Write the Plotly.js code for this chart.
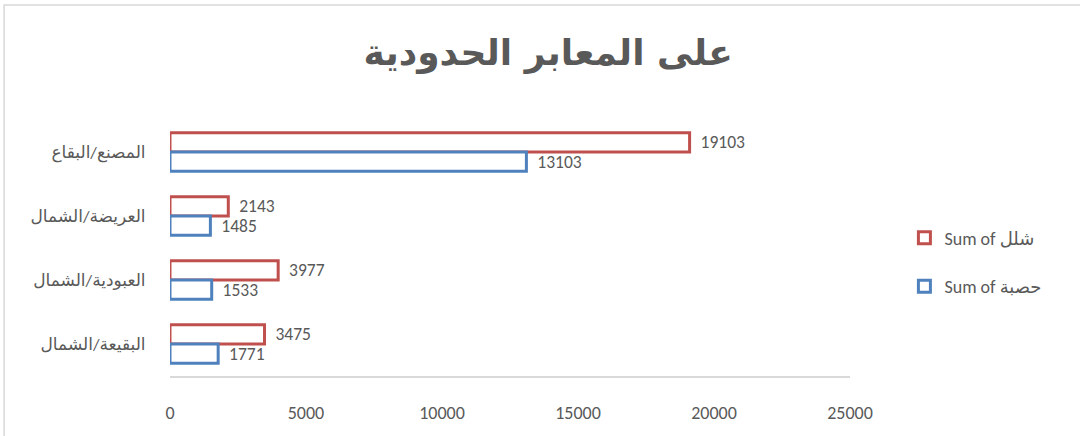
<!DOCTYPE html>
<html><head><meta charset="utf-8">
<script src="https://cdn.plot.ly/plotly-3.0.1.min.js"></script>
<style>html,body{margin:0;padding:0;background:#fff}#chart{width:1080px;height:436px}</style>
</head><body><div id="chart"></div>
<script>
const categories = ["المصنع/البقاع", "العريضة/الشمال", "العبودية/الشمال", "البقيعة/الشمال"];
const polioValues = [19103, 2143, 3977, 3475];
const measlesValues = [13103, 1485, 1533, 1771];
const seriesNames = ["Sum of شلل", "Sum of حصبة"];
const xTicks = [0, 5000, 10000, 15000, 20000, 25000];

const fontFam = "Calibri, Carlito, 'Liberation Sans', 'DejaVu Sans', sans-serif";
const grey = "#595959";

function trace(vals, name, color, grp) {
  return {
    type: "bar", orientation: "h", y: categories, x: vals, name: name, legendgroup: grp,
    marker: {color: "#ffffff", line: {color: color, width: 3}},
    text: vals.map(v => String(v)), texttemplate: "  %{text}",
    textposition: "outside", cliponaxis: false, constraintext: "none",
    textfont: {family: fontFam, size: 17.5, color: grey},
    hoverinfo: "none"
  };
}

const data = [trace(polioValues, seriesNames[0], "#C0504D", "a"), trace(measlesValues, seriesNames[1], "#4F81BD", "b")];

const layout = {
  width: 1080, height: 436,
  margin: {l: 170, r: 230, t: 120, b: 60},
  paper_bgcolor: "#fff", plot_bgcolor: "#fff",
  title: {text: "<b>على المعابر الحدودية</b>", x: 0.556, xref: "paper", xanchor: "center", y: 0.88, yanchor: "middle",
          font: {family: "'DejaVu Sans', 'Liberation Sans', sans-serif", size: 36, color: grey}},
  barmode: "group", bargap: 0.4, bargroupgap: 0,
  xaxis: {range: [0, 25000], tickvals: xTicks, ticktext: xTicks.map(String),
          showgrid: false, zeroline: false, showline: true, linecolor: "#D9D9D9", linewidth: 1.5,
          ticks: "outside", ticklen: 20, tickcolor: "rgba(0,0,0,0)",
          tickfont: {family: fontFam, size: 18, color: grey}, fixedrange: true},
  yaxis: {type: "category", autorange: "reversed", showgrid: false, zeroline: false, showline: false,
          ticks: "outside", ticklen: 20, tickcolor: "rgba(0,0,0,0)",
          tickfont: {family: fontFam, size: 17, color: grey}},
  legend: {x: 1.08, y: 0.445, xanchor: "left", yanchor: "middle", traceorder: "grouped",
           font: {family: fontFam, size: 18, color: grey}, tracegroupgap: 22, itemwidth: 30},
  showlegend: true,
  shapes: [{type: "rect", xref: "paper", yref: "paper", x0: -0.244, x1: 1.6, y0: -0.6, y1: 1.449,
            line: {color: "#D9D9D9", width: 1.5}, fillcolor: "rgba(0,0,0,0)", layer: "below"}]
};

Plotly.newPlot("chart", data, layout, {displayModeBar: false, staticPlot: true});
</script></body></html>
